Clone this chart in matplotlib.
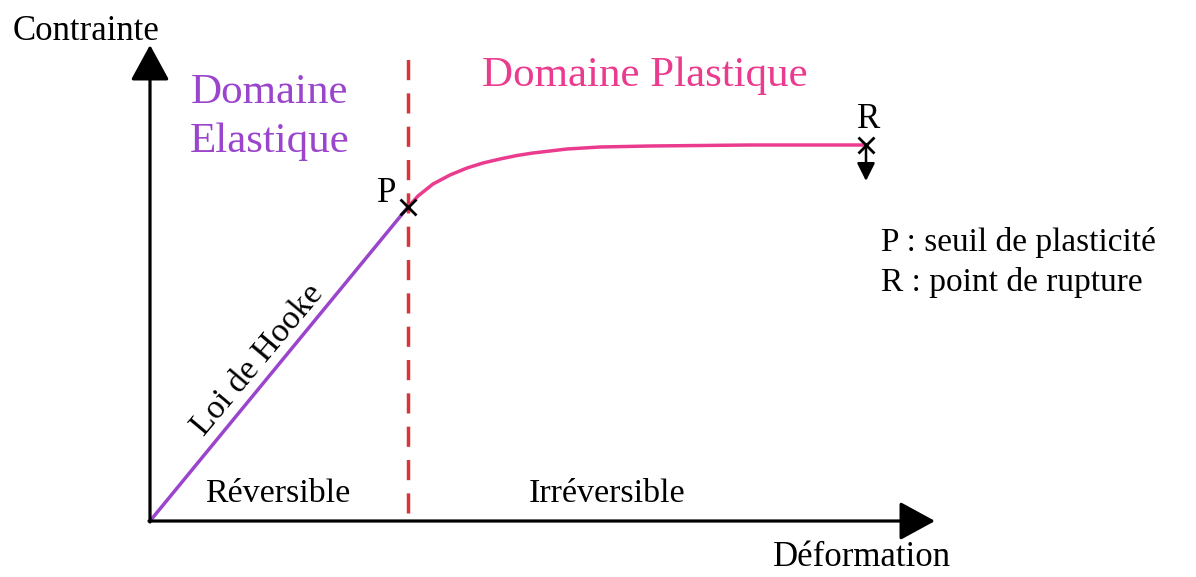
import matplotlib
matplotlib.use("Agg")
import matplotlib.pyplot as plt

plt.rcParams['font.family'] = ['Liberation Serif', 'DejaVu Serif']

# ---- data (arbitrary units: strain / stress) ----
strain_elastic = [0.0, 2.58]
stress_elastic = [0.0, 3.14]

strain_plastic = [2.58, 2.68, 2.83, 3.00, 3.17, 3.33, 3.50, 3.67, 3.83, 4.00, 4.17, 4.50, 5.00, 5.50, 6.00, 7.16]
stress_plastic = [3.14, 3.25, 3.37, 3.46, 3.53, 3.58, 3.62, 3.655, 3.68, 3.70, 3.72, 3.74, 3.75, 3.755, 3.76, 3.76]

point_P = (2.58, 3.14)
point_R = (7.16, 3.76)
x_axis_end = 7.85
y_axis_end = 4.76
boundary_x = 2.58
boundary_y = (0.08, 4.71)

legend_lines = ["P : seuil de plasticité", "R : point de rupture"]

purple = "#9a45cc"
pink = "#ea3b8e"
red = "#d8343a"

fig = plt.figure(figsize=(11.96, 5.77), dpi=100)
ax = fig.add_axes([0, 0, 1, 1])
ax.set_xlim(-1.50, 10.46)
ax.set_ylim(-0.56, 5.21)
ax.axis('off')

# axes arrows
ax.annotate("", xy=(x_axis_end, 0), xytext=(-0.01, 0),
            arrowprops=dict(arrowstyle="-|>,head_length=0.55,head_width=0.3",
                            lw=2.3, color="black", mutation_scale=40,
                            shrinkA=0, shrinkB=0))
ax.annotate("", xy=(0, y_axis_end), xytext=(0, -0.01),
            arrowprops=dict(arrowstyle="-|>,head_length=0.55,head_width=0.3",
                            lw=2.3, color="black", mutation_scale=40,
                            shrinkA=0, shrinkB=0))

# boundary dashed line
ax.plot([boundary_x, boundary_x], list(boundary_y), color=red, lw=2.5,
        dashes=(5.8, 3.8), solid_capstyle='butt')

# curves
ax.plot(strain_elastic, stress_elastic, color=purple, lw=2.5, solid_capstyle='round')
ax.plot(strain_plastic, stress_plastic, color=pink, lw=2.5, solid_joinstyle='round',
        solid_capstyle='round')

# markers
ax.plot(*point_P, marker='x', color='black', ms=11, mew=2.0)
ax.plot(*point_R, marker='x', color='black', ms=11, mew=2.0)

# rupture arrow
ax.annotate("", xy=(point_R[0], point_R[1] - 0.36), xytext=(point_R[0], point_R[1] - 0.03),
            arrowprops=dict(arrowstyle="-|>,head_length=0.6,head_width=0.3",
                            lw=1.8, color="black", mutation_scale=18,
                            shrinkA=0, shrinkB=0))

# texts
ax.text(-0.64, 4.89, "Contrainte", fontsize=25, va='center', ha='center')
ax.text(7.12, -0.36, "Déformation", fontsize=25, va='center', ha='center')
ax.text(1.19, 4.28, "Domaine", fontsize=31, color=purple, va='center', ha='center')
ax.text(1.20, 3.79, "Elastique", fontsize=31, color=purple, va='center', ha='center')
ax.text(4.95, 4.45, "Domaine Plastique", fontsize=31, color=pink, va='center', ha='center')
ax.text(2.37, 3.28, "P", fontsize=25, va='center', ha='center')
ax.text(7.19, 4.02, "R", fontsize=25, va='center', ha='center')
ax.text(7.31, 2.78, legend_lines[0], fontsize=24, va='center', ha='left')
ax.text(7.31, 2.38, legend_lines[1], fontsize=24, va='center', ha='left')
ax.text(1.28, 0.27, "Réversible", fontsize=24.5, va='center', ha='center')
ax.text(4.57, 0.27, "Irréversible", fontsize=24.5, va='center', ha='center')
ax.text(1.08, 1.61, "Loi de Hooke", fontsize=24.5, va='center', ha='center',
        rotation=50, rotation_mode='anchor')

fig.savefig("out.png", dpi=100)
